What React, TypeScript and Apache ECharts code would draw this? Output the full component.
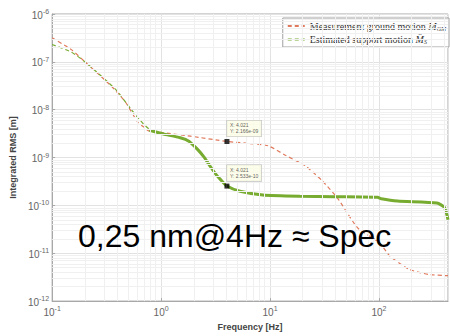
import React, { useEffect, useRef } from 'react';
import * as echarts from 'echarts';

// Measurement ground motion M_GM (orange dashed)
const measFreq = [0.1, 0.15, 0.2, 0.35, 0.47, 0.61, 0.69, 0.77, 1.0, 1.86, 4.021, 6, 9.6, 14, 20.9, 30, 41.8, 63.7, 101, 125, 190, 288, 430];
const measVal = [3.2e-7, 1.8e-7, 1.0e-7, 3.1e-8, 1.45e-8, 5.5e-9, 4.4e-9, 3.6e-9, 3.35e-9, 2.8e-9, 2.166e-9, 2.0e-9, 1.76e-9, 1.1e-9, 6.8e-10, 3.3e-10, 1.4e-10, 3.4e-11, 1.66e-11, 8.9e-12, 4.6e-12, 3.6e-12, 3.4e-12];

// Estimated support motion M_S, low-frequency part (green dashed)
const estLowFreq = [0.1, 0.15, 0.2, 0.38, 0.53, 0.69, 0.8];
const estLowVal = [2.3e-7, 1.6e-7, 1.0e-7, 2.7e-8, 1.02e-8, 5.0e-9, 3.7e-9];

// Estimated support motion, high-frequency part (green solid)
const estHighFreq = [0.78, 0.86, 1.05, 1.5, 1.8, 2.15, 2.5, 2.83, 3.2, 3.5, 4.021, 5.3, 8.6, 18.8, 39, 97, 105, 148, 340, 400, 430];
const estHighVal = [3.75e-9, 3.5e-9, 3.1e-9, 2.6e-9, 2.2e-9, 1.5e-9, 1.0e-9, 6.5e-10, 4.4e-10, 3.5e-10, 2.533e-10, 1.97e-10, 1.65e-10, 1.55e-10, 1.52e-10, 1.48e-10, 1.38e-10, 1.23e-10, 1.12e-10, 9e-11, 5e-11];

// Data tips
const tipFreq = [4.021, 4.021];
const tipVal = [2.166e-9, 2.533e-10];

// Axis decades
const xMinExp = -1;
const xMaxFreq = 430;
const xExps = [-1, 0, 1, 2];
const yExps = [-12, -11, -10, -9, -8, -7, -6];

const toXY = (f: number[], v: number[]) => f.map((x, i) => [Math.log10(x), Math.log10(v[i])]);

const fmtExp = (v: number) => {
  const s = v.toExponential(3);
  const [m, e] = s.split('e');
  const sign = e[0] === '-' ? '-' : '+';
  const digits = e.replace(/[+-]/, '').padStart(2, '0');
  return `${m}e${sign}${digits}`;
};

export default function App() {
  const ref = useRef<HTMLDivElement>(null);
  useEffect(() => {
    const chart = echarts.init(ref.current!, null, { renderer: 'svg' });
    const xMax = Math.log10(xMaxFreq);
    const minorX: number[] = [];
    xExps.forEach((e) => {
      for (let k = 2; k <= 9; k++) {
        const v = Math.log10(k * Math.pow(10, e));
        if (v < xMax) minorX.push(v);
      }
    });
    const minorY: number[] = [];
    yExps.slice(0, -1).forEach((e) => {
      for (let k = 2; k <= 9; k++) minorY.push(Math.log10(k * Math.pow(10, e)));
    });

    const labelFont = 'Liberation Sans, Arial, sans-serif';
    const rich = {
      b: { fontSize: 10, lineHeight: 12, verticalAlign: 'bottom' as const, color: '#666', fontFamily: labelFont },
      s: { fontSize: 7, lineHeight: 8, verticalAlign: 'top' as const, color: '#666', fontFamily: labelFont },
    };
    const powLabel = (v: number) => (Math.abs(v - Math.round(v)) < 1e-9 ? `{b|10}{s|${Math.round(v)}}` : '');

    const orange = '#e07a5c';
    const green = '#77ac30';
    const serif = 'Liberation Serif';

    const option: any = {
      animation: false,
      backgroundColor: '#fff',
      grid: { left: 51, right: 2, top: 14, bottom: 33, show: true, borderColor: '#a8a8a8', borderWidth: 1 },
      legend: {
        right: 1,
        top: 18,
        orient: 'vertical',
        itemWidth: 17,
        itemHeight: 8,
        itemGap: 3,
        padding: [3, 3, 2, 4],
        backgroundColor: '#fff',
        borderColor: '#a0a0a0',
        borderWidth: 1,
        itemStyle: { opacity: 0 },
        data: ['Measurement ground motion', 'Estimated support motion'],
        formatter: (name: string) =>
          name === 'Measurement ground motion'
            ? '{t|Measurement ground motion }{i|M}{sub|GM}'
            : '{t|Estimated support motion }{i|M̂}{sub|S}',
        textStyle: {
          fontFamily: serif,
          fontSize: 10,
          color: '#333',
          overflow: 'none',
          rich: {
            t: { fontFamily: serif, fontSize: 10, color: '#333', lineHeight: 11, verticalAlign: 'middle' },
            i: { fontFamily: serif, fontStyle: 'italic', fontSize: 10, color: '#333', lineHeight: 11, verticalAlign: 'middle' },
            sub: { fontFamily: serif, fontStyle: 'italic', fontSize: 6, color: '#333', lineHeight: 6, verticalAlign: 'bottom' },
          },
        },
      },
      xAxis: {
        type: 'value',
        min: xMinExp,
        max: xMax,
        interval: 1,
        name: 'Frequency [Hz]',
        nameLocation: 'middle',
        nameGap: 19,
        nameTextStyle: { fontFamily: labelFont, fontSize: 9, fontWeight: 'bold', color: '#444' },
        axisLine: { show: true, onZero: false, lineStyle: { color: '#a8a8a8' } },
        axisTick: { show: true, inside: true, length: 3, lineStyle: { color: '#a8a8a8' } },
        axisLabel: { formatter: powLabel, rich, margin: 4, showMaxLabel: false },
        splitLine: { show: true, lineStyle: { color: '#e2e2e2', width: 1 } },
      },
      yAxis: {
        type: 'value',
        min: -12,
        max: -6,
        interval: 1,
        name: 'Integrated RMS [m]',
        nameLocation: 'middle',
        nameGap: 31,
        nameTextStyle: { fontFamily: labelFont, fontSize: 9, fontWeight: 'bold', color: '#444' },
        axisLine: { show: true, onZero: false, lineStyle: { color: '#a8a8a8' } },
        axisTick: { show: true, inside: true, length: 3, lineStyle: { color: '#a8a8a8' } },
        axisLabel: { formatter: powLabel, rich, margin: 3 },
        splitLine: { show: true, lineStyle: { color: '#e2e2e2', width: 1 } },
      },
      graphic: [
        {
          type: 'text',
          left: 78,
          top: 220,
          z: 100,
          style: {
            text: '0,25 nm@4Hz ≈ Spec',
            fontFamily: labelFont,
            fontSize: 32,
            fill: '#000',
          },
        },
      ],
      series: [
        {
          name: 'minor-grid',
          type: 'line',
          data: [],
          silent: true,
          z: 0,
          markLine: {
            silent: true,
            symbol: ['none', 'none'],
            label: { show: false },
            lineStyle: { color: '#f0f0f0', type: 'solid', width: 1 },
            data: [...minorX.map((v) => ({ xAxis: v })), ...minorY.map((v) => ({ yAxis: v }))],
          },
        },
        {
          name: 'Measurement ground motion',
          type: 'line',
          data: toXY(measFreq, measVal),
          showSymbol: false,
          symbol: 'none',
          smooth: 0.2,
          z: 3,
          lineStyle: { color: orange, width: 1.2, type: [4, 3] },
          itemStyle: { color: orange },
        },
        {
          name: 'Estimated support motion',
          type: 'line',
          data: toXY(estLowFreq, estLowVal),
          showSymbol: false,
          symbol: 'none',
          smooth: 0.2,
          z: 3,
          lineStyle: { color: green, width: 1.2, type: [4, 3] },
          itemStyle: { color: green },
        },
        {
          name: 'Estimated support motion (solid)',
          type: 'line',
          data: toXY(estHighFreq, estHighVal),
          showSymbol: false,
          symbol: 'none',
          smooth: 0.2,
          z: 4,
          lineStyle: { color: green, width: 3 },
          itemStyle: { color: green },
        },
        {
          name: 'tips',
          type: 'scatter',
          symbol: 'rect',
          symbolSize: 5,
          z: 10,
          itemStyle: { color: '#000' },
          data: toXY(tipFreq, tipVal),
          label: {
            show: true,
            position: [2.5, -2.5],
            align: 'left',
            verticalAlign: 'bottom',
            formatter: (p: any) => `X: ${tipFreq[p.dataIndex]}\nY: ${fmtExp(tipVal[p.dataIndex])}`,
            fontFamily: labelFont,
            fontSize: 5,
            lineHeight: 6,
            color: '#333',
            backgroundColor: '#fdfde6',
            borderColor: '#b0b0b0',
            borderWidth: 0.6,
            padding: [2, 3],
          },
        },
      ],
    };
    chart.setOption(option);
    return () => chart.dispose();
  }, []);
  return <div ref={ref} style={{ position: 'fixed', left: 0, top: 0, width: 450, height: 336 }} />;
}
